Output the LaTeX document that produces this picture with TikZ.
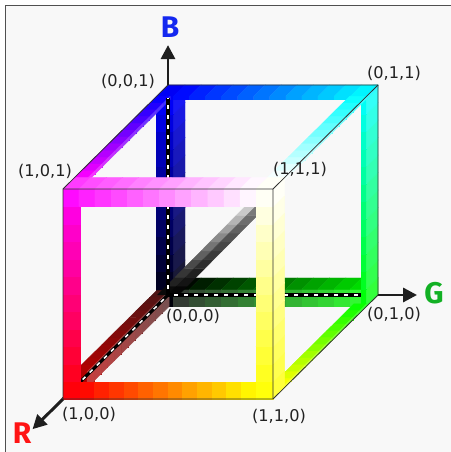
\documentclass[tikz,border=0pt]{standalone}
\usepackage{fontspec}
\setmainfont{DejaVu Sans}
\newfontfamily\axisfont{Fira Sans}
\usetikzlibrary{arrows.meta, calc}

\definecolor{paper}{HTML}{F8F8F8}
\definecolor{framegray}{HTML}{505050}
\definecolor{axisgray}{HTML}{1E1E1E}
\definecolor{edgegray}{HTML}{303030}
\definecolor{labelgray}{HTML}{222222}
\definecolor{diaggray}{HTML}{9A9A9A}
\definecolor{bluelbl}{HTML}{1428F0}
\definecolor{greenlbl}{HTML}{12B024}
\definecolor{redlbl}{HTML}{FF1414}
\definecolor{redback}{HTML}{4A1616}
\definecolor{redfront}{HTML}{B40000}
% corner colours of the cube
\definecolor{cblack}{rgb}{0,0,0}
\definecolor{cred}{rgb}{1,0,0}
\definecolor{cgreen}{rgb}{0,1,0}
\definecolor{cblue}{rgb}{0,0,1}
\definecolor{ccyan}{rgb}{0,1,1}
\definecolor{cmagenta}{rgb}{1,0,1}
\definecolor{cyellow}{rgb}{1,1,0}
\definecolor{cwhite}{rgb}{1,1,1}

%% number of colour steps along a bar
\newcommand\nseg{12}

%% one bar of the cube: #1 axis (g, b or r), #2-#7 box in (G,B,R), #8 -> #9 colours
\newcommand\cubebar[9]{%
  \def\kg{0}\def\kb{0}\def\kr{0}%
  \if#1g\def\kg{1}\fi
  \if#1b\def\kb{1}\fi
  \if#1r\def\kr{1}\fi
  \foreach \i in {1,...,\nseg}{%
    \pgfmathsetmacro\fa{(\i-1)/\nseg}%
    \pgfmathsetmacro\fb{\i/\nseg}%
    \pgfmathsetmacro\ga{(#2)+\kg*((#3)-(#2))*\fa}%
    \pgfmathsetmacro\gb{(#2)+((#3)-(#2))*(\kg*\fb+1-\kg)}%
    \pgfmathsetmacro\ba{(#4)+\kb*((#5)-(#4))*\fa}%
    \pgfmathsetmacro\bb{(#4)+((#5)-(#4))*(\kb*\fb+1-\kb)}%
    \pgfmathsetmacro\ra{(#6)+\kr*((#7)-(#6))*\fa}%
    \pgfmathsetmacro\rb{(#6)+((#7)-(#6))*(\kr*\fb+1-\kr)}%
    \pgfmathtruncatemacro\pc{round(100*(\i-0.5)/\nseg)}%
    \colorlet{segc}{#9!\pc!#8}%
    \path[segface, frontface] (\ga,\ba,\rb) -- (\gb,\ba,\rb) -- (\gb,\bb,\rb) -- (\ga,\bb,\rb) -- cycle;
    \path[segface, topface] (\ga,\bb,\rb) -- (\gb,\bb,\rb) -- (\gb,\bb,\ra) -- (\ga,\bb,\ra) -- cycle;
    \path[segface, rightface] (\gb,\ba,\rb) -- (\gb,\ba,\ra) -- (\gb,\bb,\ra) -- (\gb,\bb,\rb) -- cycle;
  }%
}

%% stepped colour strip between two named edges
\newcommand\gradquad[6]{%
  \foreach \i in {1,...,\nseg}{%
    \pgfmathsetmacro\fa{(\i-1)/\nseg}%
    \pgfmathsetmacro\fb{\i/\nseg}%
    \pgfmathtruncatemacro\pc{round(100*(\i-0.5)/\nseg)}%
    \colorlet{segc}{#6!\pc!#5}%
    \path[segface, frontface] ($(#1)!\fa!(#3)$) -- ($(#2)!\fa!(#4)$) -- ($(#2)!\fb!(#4)$) -- ($(#1)!\fb!(#3)$) -- cycle;
  }%
}

\begin{document}
\begin{tikzpicture}[
  coordlabel/.style={font=\fontsize{9.2}{11}\selectfont, text=labelgray, inner sep=0pt},
  axislabel/.style={font=\axisfont\bfseries\fontsize{17}{20}\selectfont, inner sep=0pt},
  axisarrow/.style={draw=axisgray, line width=1.7pt, -{Triangle[width=0.28cm, length=0.28cm]}},
  axisline/.style={draw=black, line width=1.8pt},
  axisdash/.style={draw=white, line width=0.9pt, dash pattern=on 2.3pt off 3.4pt, dash phase=2.3pt},
  edgeline/.style={draw=edgegray, line width=0.45pt, line join=round},
  segface/.style={line width=0.25pt, line join=round},
  frontface/.style={fill=segc, draw=segc},
  topface/.style={fill=segc, draw=segc},
  rightface/.style={fill=segc!80!cwhite, draw=segc!80!cwhite},
  flatbar/.style={topface/.style={draw=none}, rightface/.style={draw=none}}
]
  \useasboundingbox (0,0) rectangle (9,9.04);
  \fill[white] (0,0) rectangle (9,9.04);
  \draw[draw=framegray, fill=paper, line width=0.5pt] (0.1,-0.5) rectangle (9.5,8.94);

  %% cube in (G,B,R)
  \begin{scope}[shift={(3.36,3.14)}, x={(4.2cm,0cm)}, y={(0cm,4.2cm)}, z={(-2.1cm,-2.08cm)}]
    \def\barw{0.081}
    \def\bard{0.11}

    \coordinate (v000) at (0,0,0);
    \coordinate (v010) at (1,0,0);
    \coordinate (v001) at (0,1,0);
    \coordinate (v011) at (1,1,0);
    \coordinate (v100) at (0,0,1);
    \coordinate (v110) at (1,0,1);
    \coordinate (v101) at (0,1,1);
    \coordinate (v111) at (1,1,1);

    % back frame
    \begin{scope}[rightface/.style={fill=segc!90!cwhite, draw=segc!90!cwhite}]
      \cubebar{b}{0}{\barw}{0}{1}{0}{\bard}{cblack}{cblue}
    \end{scope}
    \begin{scope}[frontface/.style={fill=segc!80!cwhite, draw=segc!80!cwhite},
                  topface/.style={fill=segc!90!cblack, draw=segc!90!cblack}]
      \cubebar{g}{\barw}{1}{0}{\barw}{0}{\bard}{cblack}{cgreen}
    \end{scope}
    \cubebar{b}{0.975}{1}{0}{1}{0}{\bard}{cgreen}{ccyan}
    \cubebar{g}{\barw}{1}{0.985}{1}{0}{\bard}{cblue}{ccyan}

    % bars going to the front
    \begin{scope}[rightface/.style={fill=segc!75!cwhite, draw=segc!75!cwhite}]
      \cubebar{r}{0}{0.06}{0}{0.075}{\bard}{1-\bard}{redback}{redfront}
    \end{scope}
    \cubebar{r}{0}{0.065}{0.985}{1}{\bard}{1-\bard}{cblue}{cmagenta}
    \cubebar{r}{1-\barw}{1}{0.988}{1}{\bard}{1-\bard}{ccyan}{cwhite}
    \cubebar{r}{0.94}{1}{0}{0.012}{\bard}{1-\bard}{cgreen}{cyellow}

    % grey diagonal
    \coordinate (dl0) at (-0.05,0,0);
    \coordinate (dl1) at (0.95,1,1);
    \coordinate (dr0) at (0.05,0,0);
    \coordinate (dr1) at (1.05,1,1);
    \gradquad{dl0}{v000}{dl1}{v111}{cblack}{cwhite}
    \gradquad{v000}{dr0}{v111}{dr1}{cblack}{diaggray}

    % axes inside the cube
    \coordinate (eB) at (0,0.94,0);
    \coordinate (eG) at (0.92,0,0);
    \coordinate (eR) at (0,0,1);
    \foreach \e in {eB,eG,eR} {
      \draw[axisline] (v000) -- (\e);
      \draw[axisdash] (v000) -- (\e);
    }

    % front frame
    \begin{scope}[flatbar]
      \cubebar{b}{0}{\barw}{0}{1}{1-\bard}{1}{cred}{cmagenta}
      \cubebar{g}{\barw}{1-\barw}{0}{\barw}{1-\bard}{1}{cred}{cyellow}
    \end{scope}
    \begin{scope}[topface/.style={fill=segc!80!cwhite, draw=segc!80!cwhite}]
      \cubebar{g}{0}{1-\barw}{1-\barw}{1}{1-\bard}{1}{cmagenta}{cwhite}
      \cubebar{b}{1-\barw}{1}{0}{1}{1-\bard}{1}{cyellow}{cwhite}
    \end{scope}

    % outline
    \draw[edgeline] (v100) -- (v101) -- (v001) -- (v011) -- (v010) -- (v110) -- cycle;
    \draw[edgeline] (v101) -- (v111) -- (v011) (v111) -- (v110);

    % axis arrows
    \coordinate (tipB) at (0,1.19,0);
    \coordinate (tipG) at (1.186,0,0);
    \coordinate (tipR) at (0,0,1.29);
    \draw[axisarrow] (v001) -- (tipB);
    \draw[axisarrow] (v010) -- (tipG);
    \draw[axisarrow] (v100) -- (tipR);
  \end{scope}

  %% corner labels
  \node[coordlabel] (l001) at (2.56,7.42) {(0,0,1)};
  \node[coordlabel] (l011) at (7.88,7.58) {(0,1,1)};
  \node[coordlabel] (l101) at (0.90,5.62) {(1,0,1)};
  \node[coordlabel] (l111) at (6.00,5.66) {(1,1,1)};
  \node[coordlabel] (l000) at (3.86,2.72) {(0,0,0)};
  \node[coordlabel] (l010) at (7.88,2.76) {(0,1,0)};
  \node[coordlabel] (l100) at (1.78,0.76) {(1,0,0)};
  \node[coordlabel] (l110) at (5.58,0.72) {(1,1,0)};

  %% axis names
  \node[axislabel, text=bluelbl] (lblB) at (3.40,8.50) {B};
  \node[axislabel, text=greenlbl] (lblG) at (8.68,3.18) {G};
  \node[axislabel, text=redlbl] (lblR) at (0.44,0.38) {R};
\end{tikzpicture}
\end{document}
